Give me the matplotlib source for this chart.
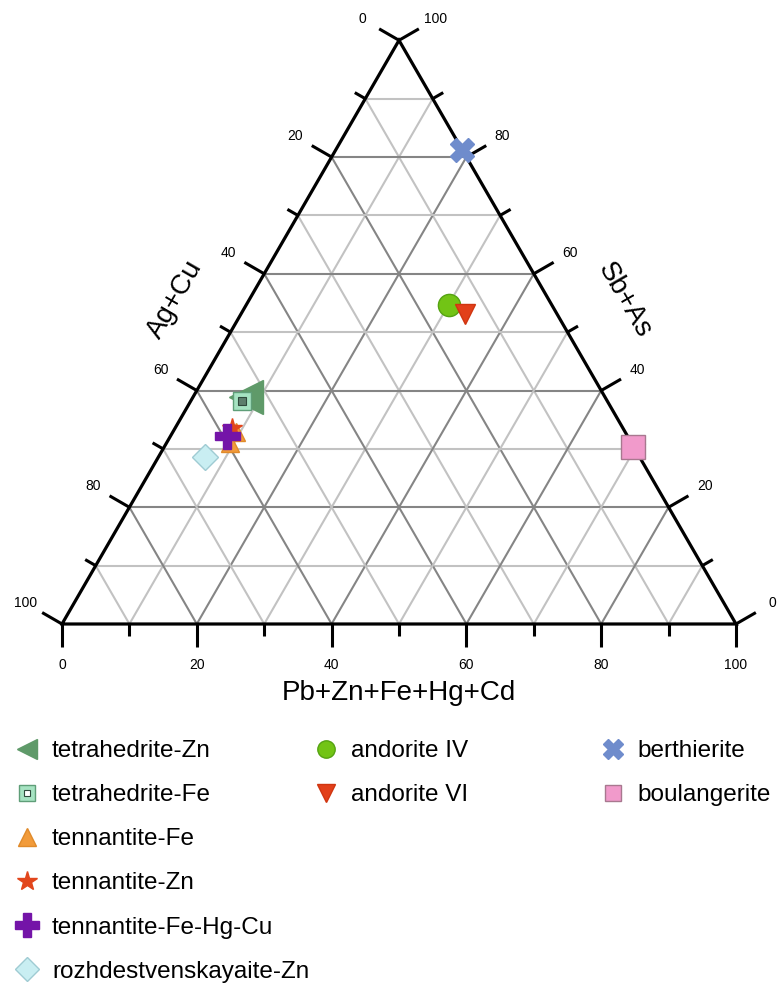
import numpy as np
import matplotlib.pyplot as plt
from matplotlib.lines import Line2D

plt.rcParams['font.family'] = ['Liberation Sans', 'DejaVu Sans']

# ---- data: (Pb+Zn+Fe+Hg+Cd, Sb+As) in %, Ag+Cu is the rest ----
tetrahedrite_zn_pb = [7.9]
tetrahedrite_zn_sb = [38.9]
tetrahedrite_fe_pb = [7.6]
tetrahedrite_fe_sb = [38.2]
tennantite_fe_pb = [9.4, 9.4]
tennantite_fe_sb = [32.9, 31.0]
tennantite_zn_pb = [8.4]
tennantite_zn_sb = [33.6]
tennantite_fehgcu_pb = [8.4]
tennantite_fehgcu_sb = [32.2]
rozhd_zn_pb = [6.9]
rozhd_zn_sb = [28.6]
andorite4_pb = [30.1]
andorite4_sb = [54.7]
andorite6_pb = [33.2]
andorite6_sb = [53.1]
berthierite_pb = [18.8]
berthierite_sb = [81.2]
boulangerite_pb = [69.5]
boulangerite_sb = [30.4]

ticks = list(range(0, 101, 10))
bottom_labels = ['0', '20', '40', '60', '80', '100']
left_labels = ['0', '20', '40', '60', '80', '100']
right_labels = ['100', '80', '60', '40', '20', '0']

H = np.sqrt(3) / 2


def tern(p, s):
    p = np.asarray(p, float) / 100.0
    s = np.asarray(s, float) / 100.0
    return p + s / 2.0, s * H


fig = plt.figure(figsize=(7.77, 9.86), dpi=100)
ax = fig.add_axes([62 / 777, (986 - 624) / 986, 674 / 777, 583.7 / 986])
ax.set_xlim(0, 1)
ax.set_ylim(0, H)
ax.axis('off')

# ---- grid ----
for v in range(10, 100, 10):
    col = '#858585' if v % 20 == 0 else '#c2c2c2'
    # constant Sb+As
    x, y = tern([0, 100 - v], [v, v])
    ax.plot(x, y, color=col, lw=1.5, zorder=1)
    # constant Pb
    x, y = tern([v, v], [0, 100 - v])
    ax.plot(x, y, color=col, lw=1.5, zorder=1)
    # constant Ag+Cu
    x, y = tern([100 - v, 0], [0, 100 - v])
    ax.plot(x, y, color=col, lw=1.5, zorder=1)

# ---- frame ----
x, y = tern([0, 100, 0, 0], [0, 0, 100, 0])
ax.plot(x, y, color='black', lw=2.3, zorder=3, solid_joinstyle='miter', clip_on=False)

# ---- ticks and labels ----
dirs = {'b': (0.0, -1.0), 'l': (-np.cos(np.pi / 6), 0.5), 'r': (np.cos(np.pi / 6), 0.5)}
for v in ticks:
    ln = 0.034 if v % 20 == 0 else 0.018
    # bottom: Pb
    bx, by = tern(v, 0)
    # left: Ag+Cu = v
    lx, ly = tern(0, 100 - v)
    # right: Sb+As = v
    rx, ry = tern(100 - v, v)
    for (px, py), key in [((bx, by), 'b'), ((lx, ly), 'l'), ((rx, ry), 'r')]:
        dx, dy = dirs[key]
        ax.plot([px, px + ln * dx], [py, py + ln * dy], color='black', lw=2.2,
                solid_capstyle='butt', clip_on=False, zorder=3)
    if v % 20 == 0:
        i = v // 20
        ax.text(bx, by - 0.061, bottom_labels[i], ha='center', va='center', fontsize=10)
        ax.text(lx - 0.062 * 0.866, ly + 0.062 * 0.5, left_labels[i],
                ha='center', va='center', fontsize=10)
        ax.text(rx + 0.062 * 0.866, ry + 0.062 * 0.5, right_labels[5 - i],
                ha='center', va='center', fontsize=10)

ax.text(0.5, -0.102, 'Pb+Zn+Fe+Hg+Cd', ha='center', va='center', fontsize=20)
ax.text(0.167, 0.481, 'Ag+Cu', ha='center', va='center', fontsize=20, rotation=60)
ax.text(0.835, 0.481, 'Sb+As', ha='center', va='center', fontsize=20, rotation=-60)

# ---- points ----
kw = dict(linestyle='none', clip_on=False, zorder=5)
st = {
    'tzn': dict(marker='<', mfc='#5f9a69', mec='#5f9a69'),
    'tfe': dict(marker='s', mfc='#a6e3c2', mec='#5f9e78', mew=1.0),
    'tnfe': dict(marker='^', mfc='#f29b3a', mec='#e08a2a'),
    'tnzn': dict(marker='*', mfc='#e2461c', mec='#e2461c'),
    'tnhg': dict(marker='P', mfc='#7414a8', mec='#7414a8'),
    'roz': dict(marker='D', mfc='#c9eef2', mec='#9fcbd3', mew=1.0),
    'and4': dict(marker='o', mfc='#72c415', mec='#55a312'),
    'and6': dict(marker='v', mfc='#e2401a', mec='#d03510'),
    'ber': dict(marker='X', mfc='#6f8ccc', mec='#6f8ccc'),
    'bou': dict(marker='s', mfc='#f19acb', mec='#a8788f', mew=1.0),
}

ax.plot(*tern(tetrahedrite_zn_pb, tetrahedrite_zn_sb), ms=24, **st['tzn'], **kw)
ax.plot(*tern(tetrahedrite_fe_pb, tetrahedrite_fe_sb), ms=13, **st['tfe'], **kw)
ax.plot(*tern(tetrahedrite_fe_pb, tetrahedrite_fe_sb), marker='s', ms=6,
        mfc='#5d7e6c', mec='#2f4a3c', mew=0.8, **kw)
ax.plot(*tern(tennantite_fe_pb, tennantite_fe_sb), ms=13, **st['tnfe'], **kw)
ax.plot(*tern(tennantite_zn_pb, tennantite_zn_sb), ms=15, **st['tnzn'], **kw)
ax.plot(*tern(tennantite_fehgcu_pb, tennantite_fehgcu_sb), ms=18, **st['tnhg'], **kw)
ax.plot(*tern(rozhd_zn_pb, rozhd_zn_sb), ms=13, **st['roz'], **kw)
ax.plot(*tern(andorite4_pb, andorite4_sb), ms=16, **st['and4'], **kw)
ax.plot(*tern(andorite6_pb, andorite6_sb), ms=14, **st['and6'], **kw)
ax.plot(*tern(berthierite_pb, berthierite_sb), ms=17, **st['ber'], **kw)
ax.plot(*tern(boulangerite_pb, boulangerite_sb), ms=17, **st['bou'], **kw)


# ---- legends (three columns) ----
def proxy(key, ms):
    return Line2D([], [], ls='none', ms=ms, **st[key])


leg_kw = dict(loc='upper left', frameon=False, fontsize=17.5, handlelength=1.2,
              handletextpad=0.43, labelspacing=0.91, borderpad=0, borderaxespad=0,
              bbox_transform=fig.transFigure)
top = 1 - 740 / 986

tfe_inner = Line2D([], [], ls='none', marker='s', ms=5, mfc='white', mec='#2f4a3c', mew=0.8)
l1 = ax.legend([proxy('tzn', 14.5), (proxy('tfe', 11.5), tfe_inner), proxy('tnfe', 13.5),
                proxy('tnzn', 15), proxy('tnhg', 17), proxy('roz', 12.5)],
               ['tetrahedrite-Zn', 'tetrahedrite-Fe', 'tennantite-Fe', 'tennantite-Zn',
                'tennantite-Fe-Hg-Cu', 'rozhdestvenskayaite-Zn'],
               bbox_to_anchor=(12.5 / 777, top), **leg_kw)
ax.add_artist(l1)
l2 = ax.legend([proxy('and4', 12.5), proxy('and6', 12.5)], ['andorite IV', 'andorite VI'],
               bbox_to_anchor=(311 / 777, top), **leg_kw)
ax.add_artist(l2)
ax.legend([proxy('ber', 14.5), proxy('bou', 11.5)], ['berthierite', 'boulangerite'],
          bbox_to_anchor=(598 / 777, top), **leg_kw)

fig.savefig('out.png', dpi=100, facecolor='white')
